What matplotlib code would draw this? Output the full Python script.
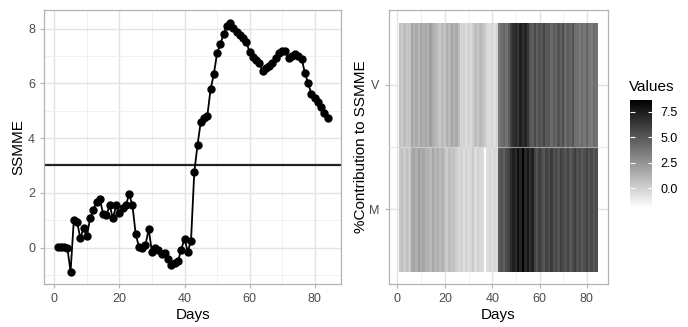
import matplotlib
matplotlib.use("Agg")
import matplotlib.pyplot as plt
from matplotlib.colors import LinearSegmentedColormap
import numpy as np

plt.rcParams['font.family'] = ['Liberation Sans', 'DejaVu Sans']

# SSMME per day (left panel)
days = list(range(1, 85))
ssmme = [0.03, 0.03, 0.02, 0.0, -0.88, 1.0, 0.95, 0.34, 0.72, 0.41,
         1.07, 1.38, 1.68, 1.78, 1.23, 1.18, 1.55, 1.07, 1.54, 1.25,
         1.44, 1.56, 1.95, 1.55, 0.5, 0.03, 0.0, 0.08, 0.68, -0.17,
         -0.02, -0.08, -0.25, -0.2, -0.4, -0.63, -0.55, -0.5, -0.07, 0.33,
         -0.15, 0.25, 2.75, 3.75, 4.6, 4.72, 4.8, 5.78, 6.33, 7.1,
         7.42, 7.8, 8.1, 8.22, 8.03, 7.89, 7.77, 7.64, 7.52, 7.13,
         6.97, 6.85, 6.73, 6.45, 6.55, 6.62, 6.75, 6.92, 7.12, 7.2,
         7.18, 6.92, 7.0, 7.08, 7.0, 6.9, 6.37, 6.0, 5.6, 5.46,
         5.31, 5.15, 4.9, 4.74]
threshold = 3

# contributions per variable (right panel)
rows = ['M', 'V']
contrib_v = [0.6, 0.3, 0.8, 0.4, 0.5, 1.8,
             1.2, 1.6, 1.0, 1.8, 1.4, 1.7, 1.3, 2.0, 1.5, 1.1,
             0.7, 0.4, 0.9, 0.5,
             1.4, 1.0, 1.8, 1.2, 1.6, 0.8,
             -0.2, 0.0, -0.5, -0.1, -0.4, 0.1,
             0.8, 0.5, 1.0, 0.6, 0.3,
             -0.3, -0.5, -0.2, -0.6, -0.1,
             3.6, 4.1, 4.4, 3.9, 4.8,
             6.0, 6.6, 7.0, 6.3, 7.4, 6.7, 7.2, 6.4,
             5.2, 4.8, 5.6, 4.7, 5.3, 5.0, 5.8, 4.9, 5.1,
             4.2, 4.8, 4.4, 5.2, 4.6, 5.4, 4.3, 4.9, 4.5, 5.1, 4.1,
             4.0, 3.6, 4.2, 3.7, 4.4, 3.8, 3.5, 4.1, 3.9]
contrib_m = [0.4, 0.7, 0.2, 0.6, 0.3,
             1.6, 1.9, 1.3, 2.1, 1.5, 1.8, 1.2,
             1.4, 1.0, 1.7, 1.1, 1.5, 0.9, 1.3,
             0.6, 0.2, 0.8, 0.4, 0.7, 0.1,
             -0.3, -0.1, -0.6, 0.0, -0.4, -0.2, 0.3, -0.5, -0.1, -0.3,
             -0.4, -1.93,
             -0.5, -0.2, -0.6, -0.3, -0.4,
             4.8, 5.2, 4.6, 5.5, 5.9,
             6.8, 7.4, 6.9, 8.0, 7.2, 8.65, 7.0, 7.6, 6.6, 7.3,
             5.8, 5.2, 6.1, 5.5, 5.0, 5.9, 5.4, 6.2, 5.3, 5.7,
             5.1, 6.0, 5.6, 5.2, 5.8, 5.0, 5.5, 6.1, 5.3, 5.7,
             4.9, 5.4, 5.9, 5.2, 5.6, 5.0, 5.5]
cbar_ticks = [0.0, 2.5, 5.0, 7.5]

tick_col = '#4d4d4d'
grid_col = '#e3e3e3'
border_col = '#b3b3b3'


def ggplot_look(ax):
    ax.set_facecolor('white')
    for s in ax.spines.values():
        s.set_color(border_col)
        s.set_linewidth(0.9)
    ax.grid(True, which='major', color=grid_col, linewidth=1.0)
    ax.grid(True, which='minor', color='#efefef', linewidth=0.6)
    ax.set_axisbelow(True)
    ax.tick_params(which='major', colors=border_col, labelcolor=tick_col,
                   labelsize=9, length=3, width=0.8)
    ax.tick_params(which='minor', length=0)


fig = plt.figure(figsize=(6.88, 3.27), dpi=100)

# left panel
ax1 = fig.add_axes([0.064, 0.131, 0.432, 0.838])
ggplot_look(ax1)
ax1.axhline(threshold, color='#222222', linewidth=1.6, zorder=2)
ax1.plot(days, ssmme, color='black', linewidth=1.3, marker='o',
         markersize=5, zorder=3)
ax1.set_xlim(1 - 0.05 * 83, 84 + 0.05 * 83)
lo, hi = min(ssmme), max(ssmme)
pad = 0.05 * (hi - lo)
ax1.set_ylim(lo - pad, hi + pad)
ax1.set_xticks([0, 20, 40, 60, 80])
ax1.set_xticks([10, 30, 50, 70], minor=True)
ax1.set_yticks([0, 2, 4, 6, 8])
ax1.set_yticks([-1, 1, 3, 5, 7], minor=True)
ax1.set_xlabel('Days', fontsize=11, labelpad=2)
ax1.set_ylabel('SSMME', fontsize=11, labelpad=2)

# right panel
ax2 = fig.add_axes([0.565, 0.131, 0.318, 0.838])
ggplot_look(ax2)
cmap = LinearSegmentedColormap.from_list('gw', ['#ffffff', '#000000'])
z = np.array([contrib_m, contrib_v])
xe = np.arange(0.5, 85.5, 1)
ye = np.array([0.5, 1.5, 2.5])
mesh = ax2.pcolormesh(xe, ye, z, cmap=cmap, vmin=-1.93, vmax=8.65,
                      shading='flat', zorder=2)
ax2.axhline(1.5, color='#dddddd', linewidth=0.8, alpha=0.6, zorder=3)
ax2.set_xlim(0.5 - 0.05 * 84, 84.5 + 0.05 * 84)
ax2.set_ylim(0.4, 2.6)
ax2.set_xticks([0, 20, 40, 60, 80])
ax2.set_xticks([10, 30, 50, 70], minor=True)
ax2.set_yticks([1, 2])
ax2.set_yticklabels(rows)
ax2.set_xlabel('Days', fontsize=11, labelpad=2)
ax2.set_ylabel('%Contribution to SSMME', fontsize=11, labelpad=1)

# legend
cax = fig.add_axes([0.916, 0.364, 0.032, 0.330])
cb = fig.colorbar(mesh, cax=cax, ticks=cbar_ticks, format='%.1f')
cb.outline.set_visible(False)
cax.tick_params(length=0, labelsize=9, labelcolor='black', pad=6)
for t in cbar_ticks:
    cax.hlines(t, 0, 0.2, color='white', linewidth=0.8)
    cax.hlines(t, 0.8, 1.0, color='white', linewidth=0.8)
fig.text(0.914, 0.735, 'Values', fontsize=11, ha='left', va='center')

fig.savefig('out.png', dpi=100, facecolor='white')
